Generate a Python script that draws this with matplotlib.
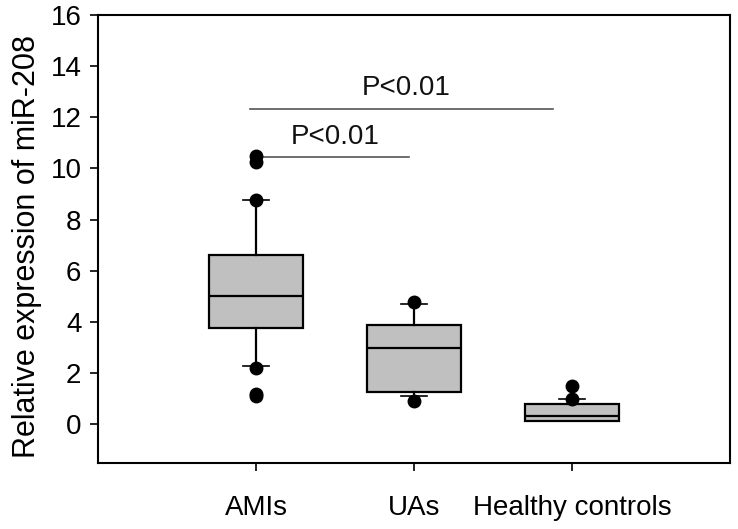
import matplotlib.pyplot as plt

plt.rcParams['font.family'] = ['Liberation Sans', 'DejaVu Sans']

groups = ["AMIs", "UAs", "Healthy controls"]
q1 = [3.75, 1.25, 0.15]
medians = [5.0, 3.0, 0.35]
q3 = [6.6, 3.9, 0.8]
whislo = [2.27, 1.13, 0.12]
whishi = [8.75, 4.69, 0.98]
fliers = [
    [10.5, 10.25, 8.75, 2.2, 1.2, 1.1],
    [4.8, 0.9],
    [1.5, 1.0],
]

# significance brackets: x start, x end, line height, label
sig_x0 = [1, 0.96]
sig_x1 = [1.97, 2.88]
sig_y = [10.43, 12.34]
sig_text = ["P<0.01", "P<0.01"]
sig_text_x = [1.5, 1.95]


def main():
    fig = plt.figure(figsize=(7.38, 5.29), dpi=100)
    ax = fig.add_axes([0.133, 0.125, 0.856, 0.847])

    stats = []
    for i, name in enumerate(groups):
        stats.append(dict(label=name, q1=q1[i], med=medians[i], q3=q3[i],
                          whislo=whislo[i], whishi=whishi[i], fliers=fliers[i]))

    ax.bxp(stats, positions=[1, 2, 3], widths=0.6, capwidths=0.16,
           patch_artist=True, showfliers=True,
           boxprops=dict(facecolor="#c0c0c0", edgecolor="black", linewidth=1.6),
           medianprops=dict(color="black", linewidth=1.6),
           whiskerprops=dict(color="black", linewidth=1.6),
           capprops=dict(color="black", linewidth=1.2),
           flierprops=dict(marker="o", markerfacecolor="black",
                           markeredgecolor="black", markersize=9))

    for x0, x1, y, t, tx in zip(sig_x0, sig_x1, sig_y, sig_text, sig_text_x):
        ax.plot([x0, x1], [y, y], color="#555555", linewidth=1.2, zorder=1)
        ax.text(tx, y + 0.3, t, ha="center", va="bottom", fontsize=20, color="#111111")

    ax.set_xlim(0, 4)
    ax.set_ylim(-1.5, 16)
    ax.set_yticks(range(0, 17, 2))
    ax.set_xticks([1, 2, 3])
    ax.set_xticklabels(groups)
    ax.tick_params(axis="both", direction="out", length=6, width=1.2, labelsize=20, pad=6)
    ax.tick_params(axis="x", pad=17)
    ax.set_ylabel("Relative expression of miR-208", fontsize=22)
    ax.yaxis.set_label_coords(-0.089, 0.484)
    for s in ax.spines.values():
        s.set_linewidth(1.5)

    fig.savefig("out.png", dpi=100)
    plt.close(fig)


if __name__ == "__main__":
    main()
